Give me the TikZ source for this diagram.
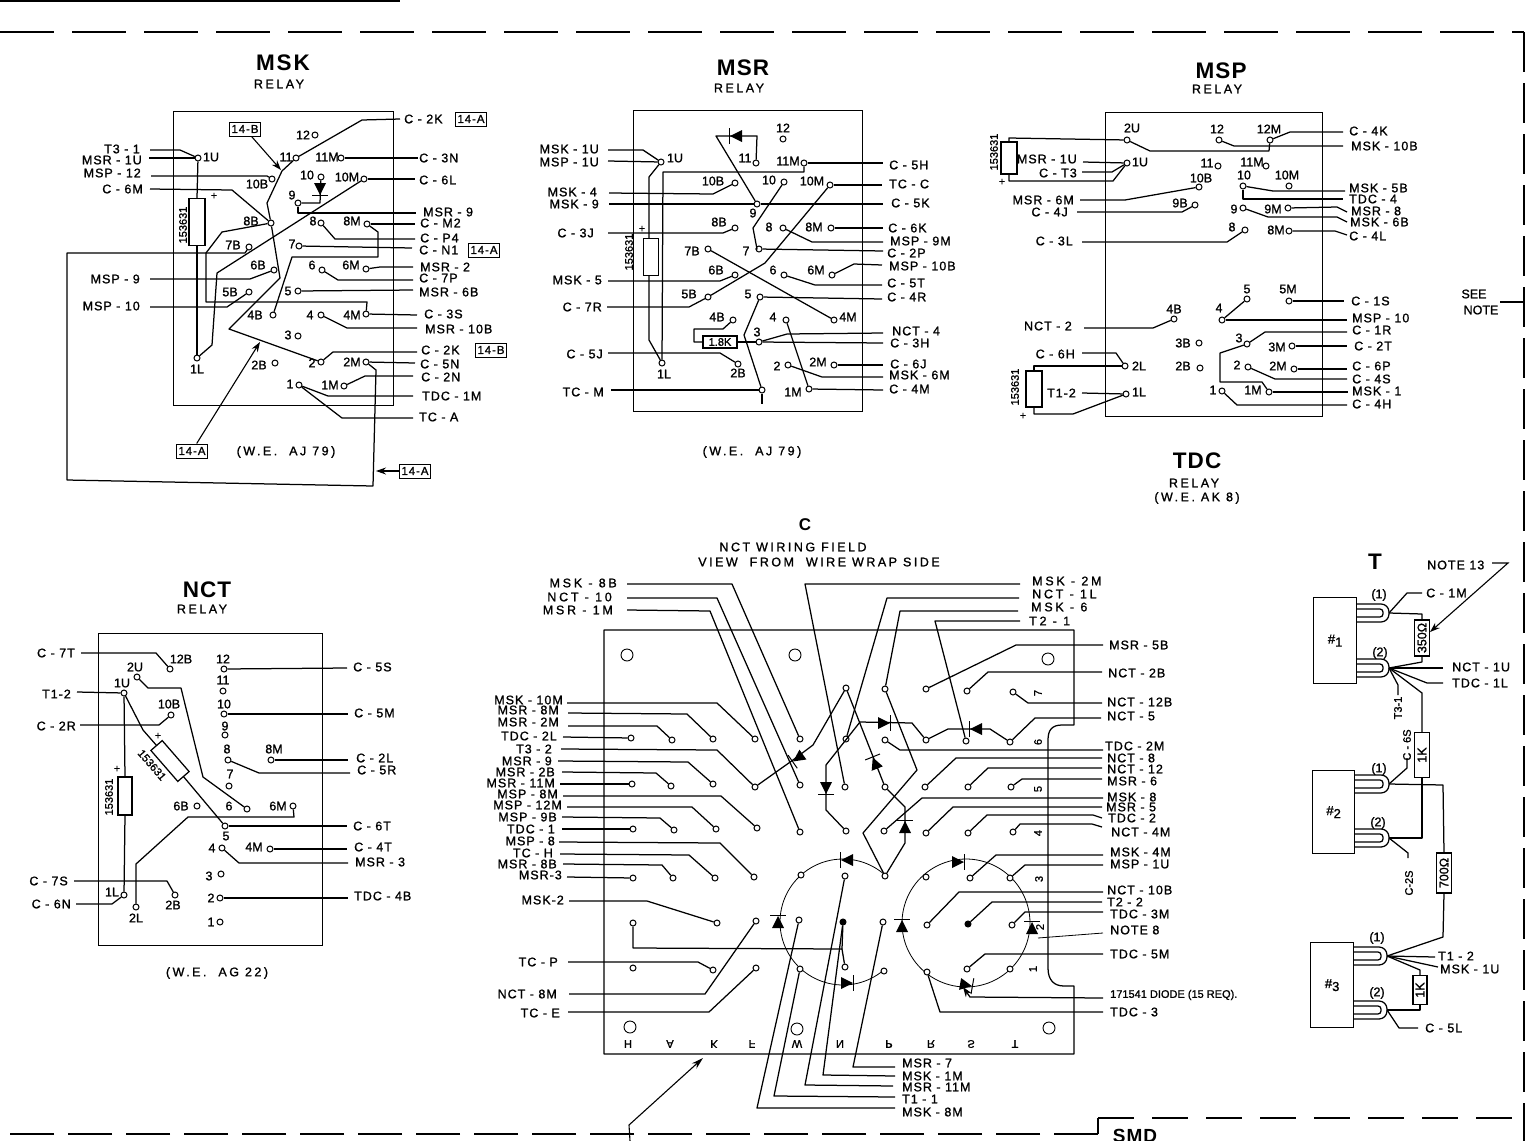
\documentclass[tikz,border=0pt]{standalone}
\usepackage{fontspec}
\setmainfont{Liberation Sans}
\newfontfamily\lbf{Liberation Sans}[FakeBold=1.2,LetterSpace=8]
\newfontfamily\lbw{Liberation Sans}[FakeBold=1.2,LetterSpace=22]
\newfontfamily\lbn{Liberation Sans}[FakeBold=1.2]
\newfontfamily\rlf{Liberation Sans}[FakeBold=1.2,LetterSpace=20]
\newfontfamily\ttlf{Liberation Sans}[LetterSpace=5]
\usetikzlibrary{arrows.meta}
\newcount\cn
\tikzset{
 w/.style={line width=1.25pt,line join=round},
 tw/.style={line width=0.8pt},
 lb/.style={font=\lbf\fontsize{12.5}{13}\selectfont,inner sep=0pt},
 lbp/.style={font=\lbn\fontsize{12.5}{13}\selectfont,inner sep=0pt},
 sm/.style={font=\lbn\fontsize{11}{11}\selectfont,inner sep=0pt},
 ttl/.style={font=\ttlf\bfseries\fontsize{22.5}{23}\selectfont,inner sep=0pt},
 rly/.style={font=\rlf\fontsize{12.5}{13}\selectfont,inner sep=0pt},
 pin/.style={circle,draw=black,fill=white,line width=1pt,minimum size=6pt,inner sep=0pt},
 fpin/.style={pin,fill=black},
 hole/.style={circle,draw=black,line width=0.9pt,minimum size=12pt,inner sep=0pt},
 tag/.style={draw=black,line width=1pt,font=\lbf\fontsize{11.5}{12}\selectfont,minimum height=14pt,inner sep=2pt},
 res/.style={draw=black,fill=white,line width=1.25pt,inner sep=0pt},
 ar/.style={line width=1.1pt,-{Stealth[length=10pt,width=7pt]}},
}
\newcommand\RW[6]{\global\advance\cn by 1 \coordinate (e\the\cn) at (#2,#3); \node[lb,anchor=west] (t\the\cn) at (#4,#5) {#6}; \draw[w] #1 -- (e\the\cn);}
\newcommand\LW[6]{\global\advance\cn by 1 \coordinate (e\the\cn) at (#2,#3); \node[lb,anchor=east] (t\the\cn) at (#4,#5) {#6}; \draw[w] #1 -- (e\the\cn);}
\newcommand\tx[3]{\global\advance\cn by 1 \node[lbp] (t\the\cn) at (#1,#2) {#3};}
\newcommand\txw[3]{\global\advance\cn by 1 \node[rly] (t\the\cn) at (#1,#2) {#3};}
\newcommand\pn[6]{\node[pin] (#1) at (#2,#3) {}; \tx{#4}{#5}{#6}}
\newcommand\pp[3]{\node[pin] (#1) at (#2,#3) {};}
\newcommand\rt[3]{\global\advance\cn by 1 \node[sm,rotate=90] (t\the\cn) at (#1,#2) {#3};}
\newcommand\plusm[2]{\global\advance\cn by 1 \node[sm] (t\the\cn) at (#1,#2) {+};}
\newcommand\dio[3]{\begin{scope}[shift={(#1,#2)},rotate=#3]\fill (-6,-6) -- (6,0) -- (-6,6) -- cycle; \draw[line width=1pt] (6.5,-8) -- (6.5,8);\end{scope}}
\newcommand\coil[4]{\draw[line width=1.25pt,rounded corners=8pt] (#1,#3-9) -- (#2,#3-9) -- (#2,#3+9) -- (#1,#3+9);\draw[line width=1.25pt,rounded corners=3pt] (#1,#3-4) -- (#2-6,#3-4) -- (#2-6,#3+4) -- (#1,#3+4);\coordinate (#4) at (#2,#3);}
\begin{document}
\begin{tikzpicture}[x=1pt,y=-1pt]
\useasboundingbox (0,0) rectangle (1527,1141);
\clip (0,0) rectangle (1527,1141);
% frame
\coordinate (fa) at (0,32); \coordinate (fb) at (1524,32); \coordinate (fc) at (1524,1118); \coordinate (fd) at (1098,1118); \coordinate (fe) at (1098,1134); \coordinate (ff) at (0,1134);
\draw[line width=1.2pt] (0,1) -- (400,1);
\draw[line width=1.4pt,dash pattern=on 54pt off 18pt] (fa) -- (fb);
\draw[line width=1.6pt,dash pattern=on 40pt off 11pt] (fb) -- (1524,1141);
\draw[line width=1.4pt,dash pattern=on 44pt off 14pt] (fe) -- (ff);
\draw[line width=1.4pt] (fe) -- (fd);
\draw[line width=1.4pt,dash pattern=on 36pt off 18pt] (fd) -- (1527,1118);
\node[font=\ttlf\bfseries\fontsize{19}{19}\selectfont,inner sep=0pt] (smd) at (1135,1136) {SMD};
\tx{1474}{294}{SEE}\tx{1481}{310}{NOTE}
\coordinate (sn) at (1500,302); \draw[w] (sn) -- (1524,302);

% ================= MSK
\node[draw,line width=1.25pt,minimum width=220pt,minimum height=294pt,anchor=north west,inner sep=0pt] (kbox) at (173,111) {};
\node[ttl] (ktl) at (283,63) {M\kern2pt S\kern2pt K};\node[rly] (krl) at (279,84) {RELAY};\txw{286}{452}{(W.E.\ \ AJ 79)}
\pn{k12}{315}{135}{303}{135}{12}\pn{k11}{296}{158}{286}{157}{11}\pn{k11M}{341}{158}{327}{157}{11M}
\pn{k10}{321}{177}{307}{175}{10}\pn{k10M}{364}{179}{347}{177}{10M}\pn{k10B}{272}{179}{257}{184}{10B}
\pn{k9}{298}{203}{292}{195}{9}\pn{k8B}{271}{223}{251}{221}{8B}\pn{k8}{321}{223}{313}{221}{8}\pn{k8M}{367}{224}{352}{221}{8M}
\pn{k7B}{249}{247}{233}{245}{7B}\pn{k7}{299}{246}{292}{244}{7}\pn{k6B}{274}{270}{258}{265}{6B}\pn{k6}{322}{270}{312}{265}{6}\pn{k6M}{366}{269}{351}{265}{6M}
\pn{k5B}{249}{292}{230}{292}{5B}\pn{k5}{298}{291}{288}{291}{5}\pn{k4B}{273}{315}{255}{315}{4B}\pn{k4}{321}{315}{310}{315}{4}\pn{k4M}{366}{314}{352}{315}{4M}
\pn{k3}{298}{336}{288}{335}{3}\pn{k2B}{275}{363}{259}{365}{2B}\pn{k2}{321}{362}{312}{363}{2}\pn{k2M}{366}{362}{352}{362}{2M}
\pn{k1}{299}{385}{290}{384}{1}\pn{k1M}{344}{386}{330}{385}{1M}\pn{k1L}{197}{358}{197}{369}{1L}\pn{k1U}{198}{158}{211}{157}{1U}
\LW{(k1U) -- (180,150)}{150}{150}{140}{149}{T3 - 1}
\LW{(k1U)}{149}{158}{142}{160}{MSR - 1U}
\LW{(k10B) -- (267,176)}{151}{176}{141}{173}{MSP - 12}
\LW{(k8B) -- (232,190)}{150}{189}{143}{189}{C - 6M}
\LW{(k6B) -- (250,279)}{150}{279}{140}{279}{MSP - 9}
\LW{(k5B) -- (227,307)}{150}{307}{140}{306}{MSP - 10}
\RW{(k11) -- (362,120)}{400}{119}{404}{119}{C - 2K}
\RW{(k11M)}{418}{158}{419}{158}{C - 3N}
\RW{(k10M)}{415}{179}{419}{180}{C - 6L}
\RW{(k9) -- (298,213)}{416}{213}{423}{212}{MSR - 9}
\RW{(k8M)}{415}{224}{420}{223}{C - M2}
\RW{(k8) -- (335,239)}{415}{239}{420}{238}{C - P4}
\RW{(k7)}{412}{248}{419}{250}{C - N1}
\RW{(k6M) -- (380,267)}{413}{267}{420}{267}{MSR - 2}
\RW{(k6) -- (338,280)}{413}{280}{419}{278}{C - 7P}
\RW{(k5)}{413}{290}{419}{292}{MSR - 6B}
\RW{(k4M)}{417}{315}{424}{314}{C - 3S}
\RW{(k4) -- (347,328)}{417}{328}{425}{329}{MSR - 10B}
\RW{(k2) -- (333,352)}{417}{352}{421}{350}{C - 2K}
\RW{(k2M)}{415}{363}{420}{364}{C - 5N}
\RW{(k1M) -- (365,376)}{413}{376}{421}{377}{C - 2N}
\RW{(k1) -- (328,396)}{413}{396}{422}{396}{TDC - 1M}
\RW{(k1) -- (342,418)}{413}{418}{419}{417}{TC - A}
\node[tag] (b1) at (471,119) {14-A};\node[tag] (b2) at (484,250) {14-A};\node[tag] (b3) at (491,350) {14-B};
\node[tag] (b4) at (245,129) {14-B};\node[tag] (b5) at (192,451) {14-A};\node[tag] (b6) at (415,471) {14-A};
\draw[w] (k11) -- (282,171) -- (267,203) -- (k8B);
\draw[w] (k8B) -- (280,278) -- (229,329) -- (k2);
\draw[w] (k10) -- (320,203) -- (k9);
\dio{320}{189}{-90}
\draw[w] (k10M) -- (217,273) -- (212,345) -- (k1L);
\draw[w] (k1U) -- (197,198);\draw[w] (197,245) -- (k1L);
\node[res,minimum width=16pt,minimum height=47pt] (kr) at (197,222) {};
\rt{183}{225}{153631}\plusm{214}{196}
\draw[w] (k8B) -- (222,232) -- (206,253) -- (206,302) -- (367,302) -- (k4M);
\draw[w] (k7B) -- (245,253) -- (67,253) -- (67,480) -- (373,486) -- (376,370) -- (k2M);
\draw[w] (k8M) -- (378,232) -- (378,257) -- (292,257) -- (k4B);
\coordinate (k14b) at (281,170); \draw[ar] (b4) -- (k14b);
\coordinate (k14a) at (260,342); \draw[ar] (b5) -- (k14a);
\coordinate (k14c) at (376,471); \draw[ar] (b6) -- (k14c);

% ================= MSR
\node[draw,line width=1.25pt,minimum width=229pt,minimum height=301pt,anchor=north west,inner sep=0pt] (rbox) at (633,110) {};
\node[ttl] (rtl) at (743,68) {MSR};\node[rly] (rrl) at (739,88) {RELAY};\txw{752}{452}{(W.E.\ \ AJ 79)}
\pn{r1U}{661}{162}{675}{158}{1U}\pn{r12}{783}{139}{783}{128}{12}\pn{r11}{756}{163}{745}{158}{11}\pn{r11M}{804}{163}{788}{161}{11M}
\pn{r10B}{735}{183}{713}{181}{10B}\pn{r10}{784}{182}{769}{180}{10}\pn{r10M}{830}{185}{812}{181}{10M}\pn{r9}{757}{204}{753}{213}{9}
\pn{r8B}{735}{228}{719}{222}{8B}\pn{r8}{783}{228}{769}{227}{8}\pn{r8M}{831}{228}{814}{227}{8M}\pn{r7B}{708}{249}{692}{251}{7B}\pn{r7}{759}{249}{746}{251}{7}
\pn{r6B}{735}{275}{716}{270}{6B}\pn{r6}{784}{275}{773}{270}{6}\pn{r6M}{832}{275}{816}{270}{6M}\pn{r5B}{708}{297}{689}{294}{5B}\pn{r5}{760}{297}{748}{294}{5}
\pn{r4B}{733}{320}{717}{317}{4B}\pn{r4}{786}{320}{773}{317}{4}\pn{r4M}{834}{320}{848}{317}{4M}\pn{r3}{759}{342}{757}{332}{3}
\pn{r2B}{738}{364}{738}{373}{2B}\pn{r2}{788}{365}{777}{366}{2}\pn{r2M}{834}{365}{818}{362}{2M}\pn{r1M}{809}{389}{793}{392}{1M}\pn{r1L}{662}{363}{664}{374}{1L}
\pp{r1}{762}{390}
\LW{(r1U) -- (643,150)}{608}{150}{599}{149}{MSK - 1U}
\LW{(r1U)}{608}{161}{599}{162}{MSP - 1U}
\LW{(r10B) -- (713,194)}{609}{193}{597}{192}{MSK - 4}
\LW{(r9)}{609}{204}{599}{204}{MSK - 9}
\LW{(r8B) -- (723,233)}{608}{233}{594}{233}{C - 3J}
\LW{(r6B) -- (720,281)}{608}{281}{602}{280}{MSK - 5}
\LW{(r5B) -- (689,307)}{607}{307}{602}{307}{C - 7R}
\LW{(r2B) -- (720,353)}{608}{353}{603}{354}{C - 5J}
\LW{(r1)}{611}{390}{604}{392}{TC - M}
\RW{(r11M)}{883}{163}{889}{165}{C - 5H}
\RW{(r10M)}{882}{185}{889}{184}{TC - C}
\RW{(r9)}{883}{204}{891}{203}{C - 5K}
\RW{(r8M)}{883}{228}{888}{228}{C - 6K}
\RW{(r8) -- (812,242)}{883}{242}{890}{241}{MSP - 9M}
\RW{(r7)}{883}{251}{887}{253}{C - 2P}
\RW{(r6M) -- (854,264)}{882}{265}{889}{266}{MSP - 10B}
\RW{(r6) -- (815,285)}{882}{285}{887}{283}{C - 5T}
\RW{(r5)}{882}{299}{887}{297}{C - 4R}
\RW{(r3) -- (787,334)}{883}{333}{892}{331}{NCT - 4}
\RW{(r3)}{883}{343}{890}{343}{C - 3H}
\RW{(r2M)}{883}{365}{890}{364}{C - 6J}
\RW{(r2) -- (822,377)}{883}{377}{889}{375}{MSK - 6M}
\RW{(r1M)}{883}{390}{889}{389}{C - 4M}
\draw[w] (r11) -- (757,136) -- (716,136) -- (r9);
\dio{736}{136}{180}
\draw[w] (r10) -- (753,228) -- (757,249) -- (r7);
\draw[w] (r7B) -- (r4M);
\draw[w] (r5B) -- (765,263) -- (r10M);
\draw[w] (r5) -- (744,335) -- (r1);
\coordinate (r1x) at (762,404); \draw[w] (r1) -- (r1x);
\draw[w] (r4) -- (r1M);
\draw[w] (r1U) -- (649,177) -- (649,340) -- (r1L);
\draw[w] (r11M) -- (804,172) -- (663,172) -- (r1L);
\node[res,minimum width=15pt,minimum height=37pt] (rr) at (651,257) {};
\rt{629}{252}{153631}\plusm{642}{229}
\draw[w] (r3) -- (737,342);
\draw[w] (703,342) -- (694,342) -- (694,329) -- (723,329) -- (r4B);
\node[res,minimum width=34pt,minimum height=12pt,font=\lbn\fontsize{11}{11}\selectfont] (rk) at (720,342) {1.8K};

% ================= MSP / TDC
\node[draw,line width=1.25pt,minimum width=217pt,minimum height=304pt,anchor=north west,inner sep=0pt] (pbox) at (1105,112) {};
\node[ttl] (ptl) at (1221,71) {MSP};\node[rly] (prl) at (1217,89) {RELAY};
\node[ttl] (dtl) at (1197,461) {TDC};\node[rly] (drl) at (1194,483) {RELAY};\txw{1197}{498}{(W.E.\ AK 8)}
\pn{p2U}{1127}{140}{1132}{128}{2U}\pn{p12}{1219}{140}{1217}{129}{12}\pn{p12M}{1270}{140}{1269}{129}{12M}\pn{p1U}{1127}{163}{1140}{162}{1U}
\pn{p11}{1218}{166}{1207}{163}{11}\pn{p11M}{1266}{166}{1252}{162}{11M}\pn{p10B}{1199}{187}{1201}{178}{10B}\pn{p10}{1243}{186}{1244}{175}{10}\pn{p10M}{1289}{186}{1287}{175}{10M}
\pn{p9B}{1195}{205}{1180}{203}{9B}\pn{p9}{1243}{208}{1234}{209}{9}\pn{p9M}{1288}{208}{1273}{209}{9M}\pn{p8}{1245}{230}{1232}{227}{8}\pn{p8M}{1289}{231}{1276}{230}{8M}
\pn{p5}{1247}{299}{1247}{289}{5}\pn{p5M}{1289}{301}{1288}{289}{5M}\pn{p4B}{1174}{319}{1174}{309}{4B}\pn{p4}{1222}{320}{1219}{308}{4}
\pn{p3B}{1199}{343}{1183}{343}{3B}\pn{p3}{1247}{344}{1239}{338}{3}\pn{p3M}{1292}{346}{1277}{347}{3M}\pn{p2L}{1125}{366}{1139}{366}{2L}\pn{p2B}{1200}{368}{1183}{366}{2B}\pn{p2}{1248}{367}{1237}{365}{2}\pn{p2M}{1294}{369}{1278}{366}{2M}
\pn{p1L}{1126}{394}{1139}{392}{1L}\pn{p1}{1222}{391}{1213}{390}{1}\pn{p1M}{1269}{392}{1253}{390}{1M}
\LW{(p1U)}{1083}{162}{1077}{159}{MSR - 1U}
\LW{(p1U) -- (1112,172)}{1082}{172}{1077}{173}{C - T3}
\LW{(p10B) -- (1125,200)}{1080}{200}{1074}{200}{MSR - 6M}
\LW{(p9B) -- (1182,212)}{1077}{212}{1068}{212}{C - 4J}
\LW{(p8) -- (1227,242)}{1082}{242}{1073}{241}{C - 3L}
\LW{(p4B) -- (1153,328)}{1084}{328}{1072}{326}{NCT - 2}
\LW{(p2L) -- (1116,353)}{1082}{353}{1075}{354}{C - 6H}
\LW{(p1L)}{1082}{393}{1076}{393}{T1-2}
\RW{(p12M) -- (1290,132)}{1343}{132}{1349}{131}{C - 4K}
\RW{(p12) -- (1234,146)}{1343}{146}{1351}{146}{MSK - 10B}
\RW{(p10) -- (1273,191)}{1345}{191}{1349}{188}{MSK - 5B}
\RW{(p10) -- (1243,199)}{1343}{199}{1349}{199}{TDC - 4}
\RW{(p9M) -- (1337,207)}{1347}{212}{1351}{211}{MSR - 8}
\RW{(p9) -- (1268,217) -- (1337,217)}{1347}{222}{1350}{222}{MSK - 6B}
\RW{(p8M) -- (1335,231)}{1347}{235}{1349}{236}{C - 4L}
\RW{(p5M)}{1344}{301}{1351}{301}{C - 1S}
\RW{(p4)}{1347}{320}{1352}{318}{MSP - 10}
\RW{(p3) -- (1265,332)}{1347}{332}{1352}{330}{C - 1R}
\RW{(p3M)}{1347}{346}{1354}{346}{C - 2T}
\RW{(p2M)}{1347}{369}{1352}{366}{C - 6P}
\RW{(p2) -- (1275,379)}{1347}{379}{1352}{379}{C - 4S}
\RW{(p1M)}{1348}{392}{1352}{391}{MSK - 1}
\RW{(p1) -- (1237,405)}{1347}{405}{1352}{404}{C - 4H}
\draw[w] (p2U) -- (1150,151) -- (1269,151) -- (p12M);
\draw[w] (p5) -- (p4);
\draw[w] (p3) -- (1220,353) -- (1220,382) -- (1262,382) -- (p1M);
\node[res,minimum width=16pt,minimum height=32pt] (pr1) at (1009,158) {};
\node[res,minimum width=16pt,minimum height=36pt] (pr2) at (1034,389) {};
\draw[w] (pr1.north) -- (1009,138) -- (p2U);
\draw[w] (pr1.south) -- (1009,181) -- (1113,181) -- (p1U);
\draw[w] (pr2.north) -- (1034,366) -- (p2L);
\draw[w] (pr2.south) -- (1034,414) -- (1073,414) -- (p1L);
\rt{994}{152}{153631}\plusm{1002}{182}\rt{1015}{387}{153631}\plusm{1023}{416}

% ================= NCT
\node[draw,line width=1.25pt,minimum width=224pt,minimum height=312pt,anchor=north west,inner sep=0pt] (nbox) at (98,633) {};
\node[ttl] (ntl) at (207,590) {NCT};\node[rly] (nrl) at (202,609) {RELAY};\txw{217}{973}{(W.E.\ \ AG 22)}
\pn{n12B}{170}{669}{181}{659}{12B}\pn{n12}{224}{669}{223}{659}{12}\pn{n2U}{137}{677}{135}{667}{2U}\pn{n1U}{124}{693}{122}{683}{1U}
\pn{n11}{223}{691}{223}{680}{11}\pn{n10B}{171}{715}{169}{704}{10B}\pn{n10}{224}{714}{224}{704}{10}\pn{n9}{225}{735}{225}{726}{9}
\pn{n8}{228}{760}{227}{749}{8}\pn{n8M}{271}{760}{274}{749}{8M}\pn{n7}{229}{786}{230}{774}{7}\pn{n6B}{197}{806}{181}{806}{6B}\pn{n6}{247}{809}{229}{806}{6}\pn{n6M}{293}{806}{278}{806}{6M}
\pn{n5}{225}{826}{226}{836}{5}\pn{n4}{222}{848}{212}{848}{4}\pn{n4M}{270}{849}{254}{847}{4M}\pn{n3}{221}{874}{209}{876}{3}\pn{n2}{220}{898}{211}{898}{2}
\pn{n2B}{175}{895}{173}{905}{2B}\pn{n1L}{124}{895}{112}{892}{1L}\pn{n2L}{136}{907}{136}{918}{2L}\pn{n1}{220}{922}{211}{922}{1}
\LW{(n12B) -- (156,653)}{81}{653}{75}{653}{C - 7T}
\LW{(n1U)}{77}{692}{71}{694}{T1-2}
\LW{(n10B) -- (159,725)}{80}{725}{76}{726}{C - 2R}
\LW{(n2B) -- (167,881)}{74}{881}{68}{881}{C - 7S}
\LW{(n1L) -- (112,904)}{76}{904}{71}{904}{C - 6N}
\RW{(n12)}{347}{668}{353}{667}{C - 5S}
\RW{(n10)}{348}{714}{354}{713}{C - 5M}
\RW{(n8M)}{348}{760}{356}{758}{C - 2L}
\RW{(n8) -- (259,773)}{350}{773}{357}{770}{C - 5R}
\RW{(n5)}{347}{826}{353}{826}{C - 6T}
\RW{(n4M)}{347}{849}{354}{847}{C - 4T}
\RW{(n4) -- (239,863)}{348}{863}{355}{862}{MSR - 3}
\RW{(n2)}{348}{898}{354}{896}{TDC - 4B}
\draw[w] (n1U) -- (143,730) -- (157,746);
\draw[w] (183,776) -- (n5);
\node[res,minimum width=41pt,minimum height=15pt,rotate=-49] (nr2) at (170,761) {};
\global\advance\cn by 1 \node[sm,rotate=-49] (t\the\cn) at (152,765) {153631};
\plusm{158}{736}
\draw[w] (n1U) -- (125,777);\draw[w] (125,815) -- (n1L);
\node[res,minimum width=14pt,minimum height=38pt] (nr1) at (125,796) {};
\rt{109}{797}{153631}\plusm{117}{769}
\draw[w] (n2U) -- (148,688) -- (181,688) -- (203,777) -- (n6);
\draw[w] (n6M) -- (294,817) -- (188,817) -- (136,864) -- (n2L);

% ================= C field
\node[ttl,font=\ttlf\bfseries\fontsize{17}{17}\selectfont] (ctl) at (805,525) {C};
\txw{793}{547}{NCT WIRING FIELD}\txw{819}{562}{VIEW\ \ FROM\ \ WIRE WRAP SIDE}
\coordinate (oa) at (604,630);\coordinate (ob) at (1074,630);\coordinate (oc) at (1074,1054);\coordinate (od) at (604,1054);
\draw[w] (oa) -- (ob) -- (1074,725) -- (1062,725) .. controls (1052,725) and (1048,730) .. (1048,740) -- (1048,968) .. controls (1048,980) and (1054,986) .. (1064,986) -- (1074,986) -- (oc) -- (od) -- cycle;
\node[hole] (h1) at (627,655) {};\node[hole] (h2) at (795,655) {};\node[hole] (h3) at (1048,659) {};
\node[hole] (h4) at (630,1027) {};\node[hole] (h5) at (797,1029) {};\node[hole] (h6) at (1049,1028) {};
\foreach \p/\q in {628/H,670/A,714/K,752/F,797/W,840/N,889/P,931/R,971/S,1015/T}{\global\advance\cn by 1 \node[sm] (t\the\cn) at (\p,1044) {\scalebox{1}[-1]{\q}};}
\foreach \p/\q/\c in {1038/693/7,1038/742/6,1038/789/5,1038/833/4,1039/879/3,1040/927/2,1033/969/1}{\global\advance\cn by 1 \node[sm,rotate=90] (t\the\cn) at (\p,\q) {\c};}
% circles
\draw[tw] plot[domain=-310:-48,samples=80,smooth] ({843+63*cos(\x)},{922+63*sin(\x)});
\draw[tw] plot[domain=0:360,samples=100,smooth] ({966+64*cos(\x)},{923+64*sin(\x)});
% grid pins
\pp{a1}{631}{738}\pp{a2}{672}{740}\pp{a3}{713}{739}\pp{a4}{755}{739}\pp{a5}{800}{739}\pp{a6}{846}{739}\pp{a7}{885}{740}\pp{a8}{926}{740}\pp{a9}{966}{741}\pp{a10}{1010}{742}
\pp{b1}{632}{784}\pp{b2}{671}{786}\pp{b3}{713}{784}\pp{b4}{755}{787}\pp{b5}{800}{785}\pp{b6}{845}{787}\pp{b7}{885}{787}\pp{b8}{925}{787}\pp{b9}{968}{787}\pp{b10}{1011}{787}
\pp{c1}{633}{829}\pp{c2}{674}{830}\pp{c3}{716}{829}\pp{c4}{757}{828}\pp{c5}{800}{832}\pp{c6}{846}{831}\pp{c7}{884}{831}\pp{c8}{926}{833}\pp{c9}{968}{833}\pp{c10}{1013}{832}
\pp{d1}{633}{878}\pp{d2}{673}{878}\pp{d3}{715}{878}\pp{d4}{754}{877}\pp{d5}{801}{875}\pp{d6}{845}{876}\pp{d7}{885}{876}\pp{d8}{926}{877}\pp{d9}{970}{878}\pp{d10}{1010}{878}
\pp{e1}{633}{923}\pp{e3}{717}{923}\pp{e4}{756}{921}\pp{e5}{799}{920}\node[fpin] (e6) at (843,922) {};\pp{e7}{883}{922}\pp{e8}{927}{925}\node[fpin] (e9) at (968,924) {};\pp{e10}{1012}{925}
\pp{f1}{633}{968}\pp{f3}{713}{970}\pp{f4}{756}{968}\pp{f5}{800}{969}\pp{f6}{845}{967}\pp{f7}{884}{971}\pp{f8}{927}{972}\pp{f9}{967}{969}\pp{f10}{1010}{969}
\pp{g6}{846}{688}\pp{g7}{885}{689}\pp{g8}{926}{689}\pp{g9}{967}{691}\pp{g10}{1013}{692}
% left labels
\LW{(a4) -- (717,703)}{567}{703}{563}{700}{MSK - 10M}
\LW{(a3) -- (687,714)}{568}{713}{559}{710}{MSR - 8M}
\LW{(a2) -- (657,726)}{568}{726}{559}{722}{MSR - 2M}
\LW{(a1)}{563}{737}{557}{736}{TDC - 2L}
\LW{(b4) -- (717,750)}{561}{749}{552}{749}{T3 - 2}
\LW{(b3) -- (688,762)}{558}{761}{552}{761}{MSR - 9}
\LW{(b2) -- (656,773)}{562}{772}{555}{772}{MSR - 2B}
\LW{(b1)}{560}{784}{555}{783}{MSR - 11M}
\LW{(c4) -- (721,796)}{563}{796}{558}{794}{MSP - 8M}
\LW{(c3) -- (692,807)}{567}{807}{562}{805}{MSP - 12M}
\LW{(c2) -- (660,818)}{562}{817}{557}{817}{MSP - 9B}
\LW{(c1)}{562}{829}{555}{829}{TDC - 1}
\LW{(d4) -- (720,843)}{559}{842}{555}{841}{MSP - 8}
\LW{(d3) -- (689,855)}{560}{854}{553}{853}{TC - H}
\LW{(d2) -- (662,865)}{563}{864}{557}{864}{MSR - 8B}
\LW{(d1)}{567}{877}{562}{875}{MSR-3}
\LW{(e3) -- (647,901)}{569}{901}{564}{900}{MSK-2}
\LW{(f3) -- (698,962)}{568}{962}{558}{962}{TC - P}
\LW{(e4) -- (705,994)}{569}{994}{557}{994}{NCT - 8M}
\LW{(f4) -- (709,1012)}{568}{1012}{560}{1013}{TC - E}
% top labels
\LW{(a5) -- (732,584)}{627}{584}{617}{583}{\lbw MSK - 8B}
\LW{(b5) -- (717,598)}{627}{598}{612}{597}{\lbw NCT - 10}
\LW{(c5) -- (710,611)}{627}{610}{613}{610}{\lbw MSR - 1M}
\RW{(b6) -- (805,584)}{1020}{584}{1032}{581}{\lbw MSK - 2M}
\RW{(a6) -- (887,598)}{1019}{598}{1032}{594}{\lbw NCT - 1L}
\RW{(d7) -- (863,833) -- (917,770) -- (g7) -- (900,611)}{1018}{611}{1031}{607}{\lbw MSK - 6}
\RW{(a9) -- (935,621)}{1020}{621}{1029}{621}{\lbw T2 - 1}
% right labels
\RW{(g8) -- (1016,645)}{1103}{645}{1109}{645}{MSR - 5B}
\RW{(g9) -- (988,672)}{1102}{672}{1108}{673}{NCT - 2B}
\RW{(g10) -- (1028,703)}{1102}{703}{1107}{702}{NCT - 12B}
\RW{(a10) -- (1035,718)}{1101}{718}{1107}{716}{NCT - 5}
\RW{(a7) -- (900,750)}{1103}{750}{1105}{746}{TDC - 2M}
\RW{(b8) -- (956,758)}{1102}{758}{1107}{758}{NCT - 8}
\RW{(b9) -- (988,768)}{1102}{768}{1107}{769}{NCT - 12}
\RW{(b10) -- (1022,779)}{1102}{779}{1107}{781}{MSR - 6}
\RW{(c7) -- (922,798)}{1103}{798}{1107}{797}{MSK - 8}
\RW{(c8) -- (953,807)}{1102}{807}{1106}{807}{MSR - 5}
\RW{(c9) -- (987,815) -- (1093,815)}{1102}{818}{1108}{818}{TDC - 2}
\RW{(c10) -- (1020,824) -- (1092,824)}{1102}{827}{1111}{832}{NCT - 4M}
\RW{(d9) -- (996,855)}{1103}{855}{1110}{852}{MSK - 4M}
\RW{(d10) -- (1025,865)}{1103}{865}{1110}{864}{MSP - 1U}
\RW{(e8) -- (959,892)}{1103}{892}{1107}{890}{NCT - 10B}
\RW{(e9) -- (992,902)}{1102}{902}{1107}{902}{T2 - 2}
\RW{(e10) -- (1025,912)}{1103}{912}{1110}{914}{TDC - 3M}
\RW{(f9) -- (985,954)}{1103}{954}{1110}{954}{TDC - 5M}
\RW{(f8) -- (940,1012)}{1103}{1012}{1110}{1012}{TDC - 3}
% bottom labels
\RW{(e7) -- (853,1067)}{895}{1067}{902}{1063}{MSR - 7}
\RW{(e6) -- (823,1075)}{895}{1076}{902}{1076}{MSK - 1M}
\RW{(d6) -- (805,1085)}{893}{1086}{902}{1087}{MSR - 11M}
\RW{(f5) -- (774,1096)}{895}{1097}{902}{1099}{T1 - 1}
\RW{(e5) -- (757,1108)}{895}{1108}{902}{1112}{MSK - 8M}
% internal field wires
\draw[w] (b4) -- (793,760) -- (813,745) -- (g6);
\draw[w] (g6) -- (b7) -- (905,807) -- (905,843) -- (d7);
\draw[w] (a8) -- (912,723) -- (860,722) -- (826,765) -- (826,810) -- (c6);
\draw[w] (a10) -- (990,729) -- (948,729) -- (a8);
\draw[w] (e1) -- (633,948) -- (842,949) -- (f6);
\draw[w] (e6) -- (842,949);
\dio{798}{758}{215}\dio{884}{723}{0}\dio{976}{729}{180}\dio{826}{788}{-90}\dio{875}{763}{112}\dio{905}{827}{90}
\dio{847}{860}{180}\dio{778}{922}{90}\dio{847}{983}{0}\dio{958}{862}{0}\dio{902}{926}{90}\dio{1032}{928}{90}\dio{966}{985}{-10}
\global\advance\cn by 1 \coordinate (e\the\cn) at (1103,933); \node[lb,anchor=west] (t\the\cn) at (1110,930) {NOTE 8};
\coordinate (n8t) at (1038,938); \draw[tw] (e\the\cn) -- (n8t);
\global\advance\cn by 1 \coordinate (e\the\cn) at (1103,998); \node[lbp,anchor=west,font=\lbn\fontsize{11}{12}\selectfont] (t\the\cn) at (1110,995) {171541 DIODE (15 REQ).};
\coordinate (dt) at (963,987); \draw[w,-{Stealth[length=10pt,width=7pt]}] (e\the\cn) -- (970,997) -- (dt);
\coordinate (ca) at (630,1141); \coordinate (cb) at (629,1125); \coordinate (cc) at (703,1058);
\draw[line width=1.1pt,-{Stealth[length=12pt,width=7pt]}] (ca) -- (cb) -- (cc);

% ================= T
\node[ttl] (ttt) at (1375,562) {T};
\node[draw,line width=1.25pt,minimum width=43pt,minimum height=86pt,anchor=north west,inner sep=0pt,font=\lbn\fontsize{13}{13}\selectfont] (s1) at (1313,597) {\#\raisebox{-3pt}{1}};
\node[draw,line width=1.25pt,minimum width=42pt,minimum height=83pt,anchor=north west,inner sep=0pt,font=\lbn\fontsize{13}{13}\selectfont] (s2) at (1312,770) {\#\raisebox{-3pt}{2}};
\node[draw,line width=1.25pt,minimum width=43pt,minimum height=85pt,anchor=north west,inner sep=0pt,font=\lbn\fontsize{13}{13}\selectfont] (s3) at (1310,942) {\#\raisebox{-3pt}{3}};
\coil{1356}{1389}{613}{c1a}\coil{1356}{1389}{668}{c1b}\coil{1354}{1389}{784}{c2a}\coil{1354}{1389}{838}{c2b}\coil{1353}{1387}{956}{c3a}\coil{1353}{1387}{1010}{c3b}
\tx{1379}{595}{(1)}\tx{1380}{653}{(2)}\tx{1379}{769}{(1)}\tx{1378}{823}{(2)}\tx{1377}{938}{(1)}\tx{1377}{993}{(2)}
\node[res,minimum width=15pt,minimum height=36pt] (tr1) at (1422,638) {};
\node[res,minimum width=15pt,minimum height=45pt] (tr2) at (1422,755) {};
\node[res,minimum width=15pt,minimum height=40pt] (tr3) at (1444,873) {};
\node[res,minimum width=14pt,minimum height=29pt] (tr4) at (1420,990) {};
\global\advance\cn by 1 \node[lbp,rotate=90] (t\the\cn) at (1422,638) {350Ω};
\global\advance\cn by 1 \node[lbp,rotate=90] (t\the\cn) at (1422,755) {1K};
\global\advance\cn by 1 \node[lbp,rotate=90] (t\the\cn) at (1444,873) {700Ω};
\global\advance\cn by 1 \node[lbp,rotate=90] (t\the\cn) at (1420,990) {1K};
\draw[w] (c1a) -- (1422,614) -- (tr1.north);
\draw[w] (tr1.south) -- (1422,662) -- (c1b);
\draw[w] (c1b) -- (1422,693) -- (tr2.north);
\draw[w] (tr2.south) -- (1422,838) -- (c2b);
\draw[w] (c2a) -- (1443,785) -- (tr3.north);
\draw[w] (tr3.south) -- (1443,937) -- (c3a);
\draw[w] (c3a) -- (1420,970) -- (tr4.north);
\draw[w] (tr4.south) -- (1420,1010) -- (c3b);
\RW{(c1a) -- (1407,593)}{1422}{593}{1426}{593}{C - 1M}
\RW{(c1b)}{1443}{668}{1452}{667}{NCT - 1U}
\RW{(c1b) -- (1427,683)}{1443}{683}{1452}{683}{TDC - 1L}
\RW{(c3a)}{1435}{957}{1438}{956}{T1 - 2}
\RW{(c3a)}{1438}{967}{1440}{969}{MSK - 1U}
\RW{(c3b) -- (1399,1028)}{1418}{1028}{1425}{1028}{C - 5L}
\coordinate (t31) at (1398,695); \draw[w] (c1b) -- (1398,685) -- (t31);
\coordinate (t61) at (1407,758); \draw[w] (c2a) -- (1407,768) -- (t61);
\coordinate (t21) at (1408,858); \draw[w] (c2b) -- (1408,853) -- (t21);
\global\advance\cn by 1 \node[sm,rotate=90] (t\the\cn) at (1398,708) {T3-1};
\global\advance\cn by 1 \node[sm,rotate=90] (t\the\cn) at (1407,745) {C - 6S};
\global\advance\cn by 1 \node[sm,rotate=90] (t\the\cn) at (1409,883) {C-2S};
\global\advance\cn by 1 \node[lb,anchor=west] (nt13) at (1427,565) {NOTE 13};
\coordinate (nt1) at (1492,563);\coordinate (nt2) at (1508,563);\coordinate (nt3) at (1430,632);
\draw[line width=1.1pt,-{Stealth[length=10pt,width=7pt]}] (nt1) -- (nt2) -- (nt3);
\end{tikzpicture}
\end{document}
